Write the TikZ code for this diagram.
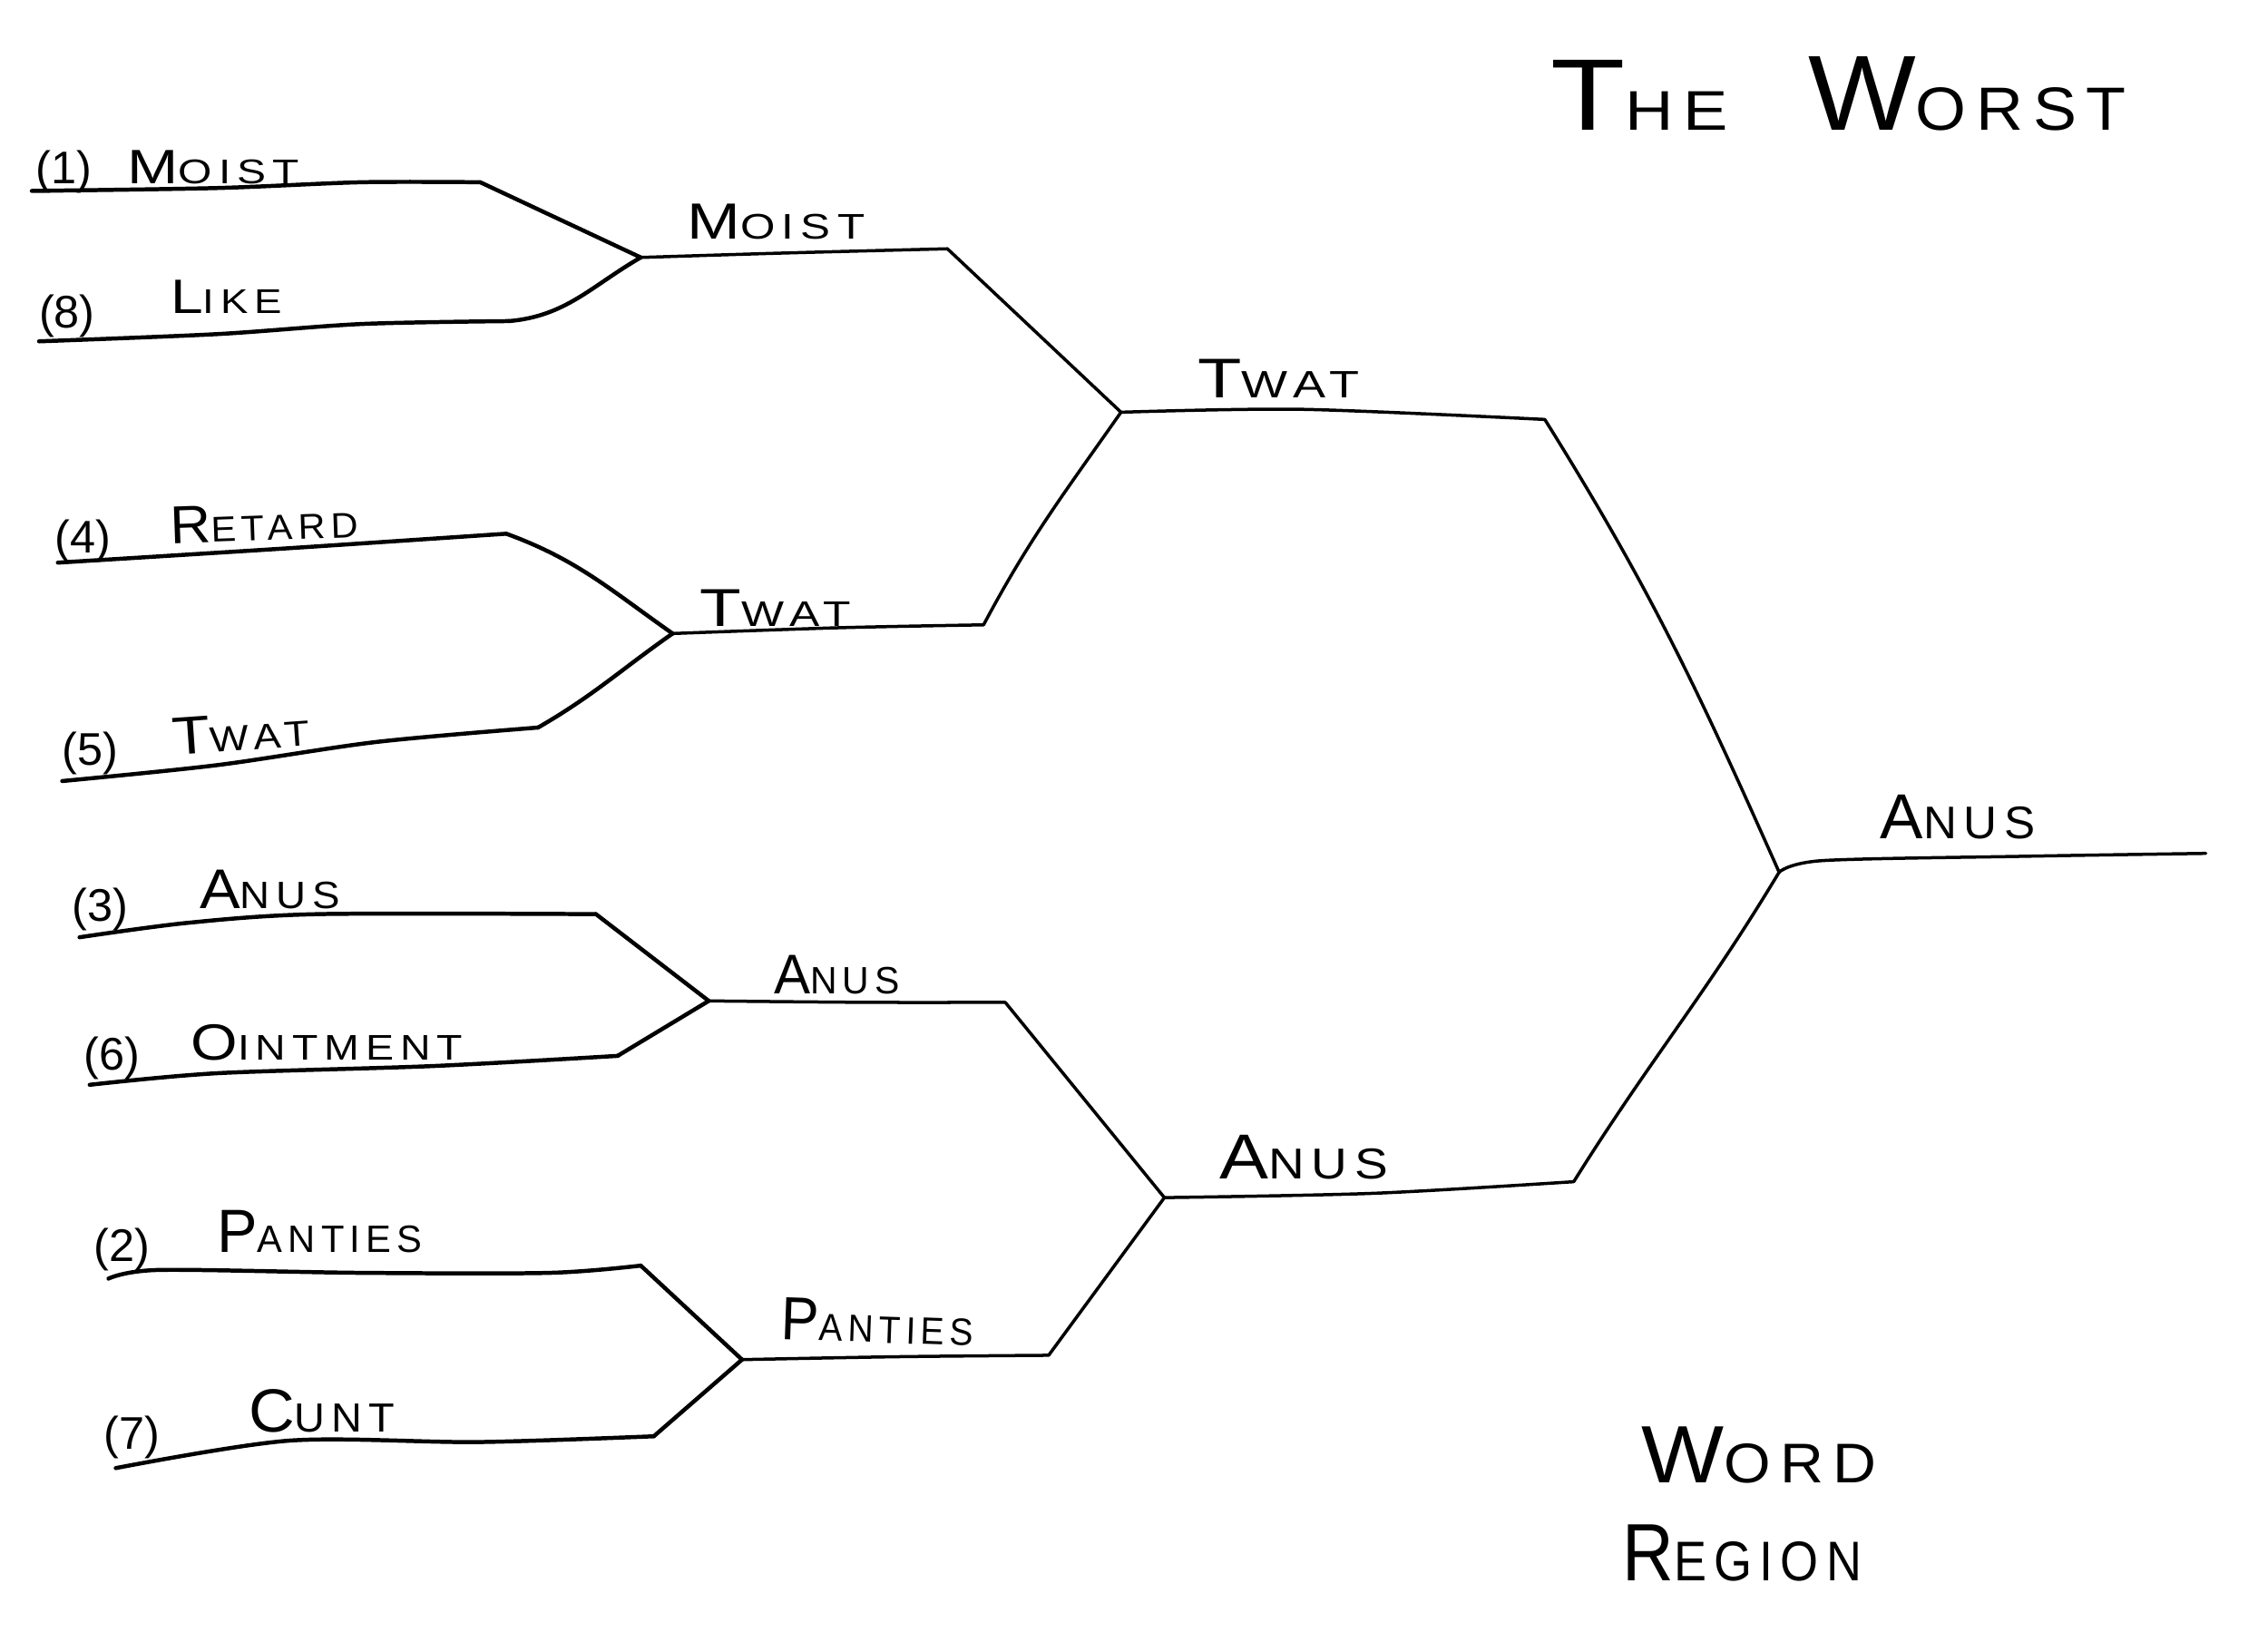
\documentclass[tikz,border=0pt]{standalone}
\usepackage{fontspec}
\usepackage{graphicx}
\setmainfont{Liberation Sans}[LetterSpace=15]
\newcommand\hw[5]{\resizebox{#1}{\height}{\fontsize{#2}{#2}\selectfont #4\fontsize{#3}{#3}\selectfont #5}}
\newcommand\seed[1]{{\fontsize{18pt}{18pt}\selectfont\addfontfeature{LetterSpace=0}#1}}
\begin{document}
\begin{tikzpicture}[x=0.2mm,y=-0.2mm,
  ra/.style={line width=1.6pt,line cap=round,line join=round},
  rb/.style={line width=1.25pt,line cap=round,line join=round},
  lbl/.style={anchor=base west,inner sep=0pt,outer sep=0pt},
  sm/.style={smooth,tension=0.5}]
\useasboundingbox[fill=white] (0,0) rectangle (1568,1135);
% end points and junctions
\coordinate (a1) at (22,132);  \coordinate (b1) at (332,126);
\coordinate (a8) at (27,236);  \coordinate (b8) at (352,222);
\coordinate (q1) at (443,178); \coordinate (q1e) at (655,172);
\coordinate (a4) at (40,389);  \coordinate (b4) at (350,369);
\coordinate (a5) at (43,540);  \coordinate (b5) at (372,503);
\coordinate (q2) at (465,438); \coordinate (q2e) at (680,432);
\coordinate (s1) at (775,285); \coordinate (s1e) at (1068,290);
\coordinate (a3) at (55,648);  \coordinate (b3) at (412,632);
\coordinate (a6) at (62,750);  \coordinate (b6) at (427,730);
\coordinate (q3) at (490,692); \coordinate (q3e) at (695,693);
\coordinate (a2) at (75,884);  \coordinate (b2) at (443,875);
\coordinate (a7) at (80,1015); \coordinate (b7) at (452,993);
\coordinate (q4) at (513,940); \coordinate (q4e) at (725,937);
\coordinate (s2) at (805,828); \coordinate (s2e) at (1088,817);
\coordinate (f) at (1230,603); \coordinate (fe) at (1525,590);
% first round
\draw[ra] plot[sm] coordinates {(a1) (150,130) (250,126) (b1)};
\draw[ra] (b1) -- (q1);
\draw[ra] plot[sm] coordinates {(a8) (150,231) (250,224) (b8)};
\draw[ra] (b8) to[out=5,in=-150] (q1);
\draw[ra] plot[sm] coordinates {(a4) (200,379) (b4)};
\draw[ra] (b4) to[out=-20,in=145] (q2);
\draw[ra] plot[sm] coordinates {(a5) (150,529) (260,513) (b5)};
\draw[ra] (b5) to[out=30,in=-145] (q2);
\draw[ra] plot[sm] coordinates {(a3) (130,638) (220,632) (b3)};
\draw[ra] (b3) -- (q3);
\draw[ra] plot[sm] coordinates {(a6) (150,742) (300,737) (b6)};
\draw[ra] (b6) -- (q3);
\draw[ra] plot[sm] coordinates {(a2) (110,878) (250,880) (380,880) (b2)};
\draw[ra] (b2) -- (q4);
\draw[ra] plot[sm] coordinates {(a7) (200,996) (330,997) (b7)};
\draw[ra] (b7) -- (q4);
% second round
\draw[rb] plot[sm] coordinates {(q1) (540,175) (q1e)};
\draw[rb] (q1e) -- (s1);
\draw[rb] plot[sm] coordinates {(q2) (580,434) (q2e)};
\draw[rb] (q2e) to[out=62,in=-125] (s1);
\draw[rb] plot[sm] coordinates {(q3) (600,693) (q3e)};
\draw[rb] (q3e) -- (s2);
\draw[rb] plot[sm] coordinates {(q4) (620,938) (q4e)};
\draw[rb] (q4e) -- (s2);
% semifinals
\draw[rb] plot[sm] coordinates {(s1) (900,283) (s1e)};
\draw[rb] (s1e) to[out=-58,in=114] (f);
\draw[rb] plot[sm] coordinates {(s2) (950,825) (s2e)};
\draw[rb] (s2e) to[out=58,in=-121] (f);
% final
\draw[rb] plot[sm] coordinates {(f) (1260,595) (1400,592) (fe)};
% seeds
\node[lbl] (n1) at (25,127) {\seed{(1)}};
\node[lbl] (n8) at (27,227) {\seed{(8)}};
\node[lbl] (n4) at (38,382) {\seed{(4)}};
\node[lbl] (n5) at (43,529) {\seed{(5)}};
\node[lbl] (n3) at (50,637) {\seed{(3)}};
\node[lbl] (n6) at (58,740) {\seed{(6)}};
\node[lbl] (n2) at (65,872) {\seed{(2)}};
\node[lbl] (n7) at (72,1002) {\seed{(7)}};
% first round names
\node[lbl] (w1) at (88,127) {\hw{23.8mm}{19pt}{13.5pt}{M}{OIST}};
\node[lbl] (w8) at (118,217) {\hw{15.4mm}{19pt}{13.5pt}{L}{IKE}};
\node[lbl,rotate=2] (w4) at (118,376) {\hw{26mm}{21pt}{14pt}{R}{ETARD}};
\node[lbl,rotate=4] (w5) at (120,522) {\hw{19mm}{21pt}{14pt}{T}{WAT}};
\node[lbl] (w3) at (138,628) {\hw{19.4mm}{22pt}{15pt}{A}{NUS}};
\node[lbl] (w6) at (132,733) {\hw{37.6mm}{20pt}{14pt}{O}{INTMENT}};
\node[lbl] (w2) at (150,866) {\hw{28.4mm}{24pt}{15pt}{P}{ANTIES}};
\node[lbl] (w7) at (172,990) {\hw{20.2mm}{24pt}{16pt}{C}{UNT}};
% second round names
\node[lbl] (x1) at (475,165) {\hw{24.6mm}{20pt}{14pt}{M}{OIST}};
\node[lbl] (x2) at (484,433) {\hw{20.8mm}{21pt}{14pt}{T}{WAT}};
\node[lbl] (x3) at (535,687) {\hw{17.4mm}{22pt}{15pt}{A}{NUS}};
\node[lbl,rotate=-2] (x4) at (540,926) {\hw{26.6mm}{24pt}{15pt}{P}{ANTIES}};
% semifinal and final names
\node[lbl] (y1) at (828,275) {\hw{22.4mm}{22pt}{15pt}{T}{WAT}};
\node[lbl] (y2) at (843,815) {\hw{23.4mm}{25pt}{17pt}{A}{NUS}};
\node[lbl] (z) at (1300,580) {\hw{21.4mm}{25pt}{18pt}{A}{NUS}};
% titles
\node[lbl] (title) at (1072,90) {\hw{24.6mm}{40pt}{22pt}{T}{HE}\hspace{11mm}\hw{44mm}{42pt}{24pt}{W}{ORST}};
\node[lbl] (word) at (1135,1025) {\hw{32.4mm}{32pt}{22pt}{W}{ORD}};
\node[lbl] (region) at (1122,1093) {\hw{33mm}{32pt}{22pt}{R}{EGION}};
\end{tikzpicture}
\end{document}
